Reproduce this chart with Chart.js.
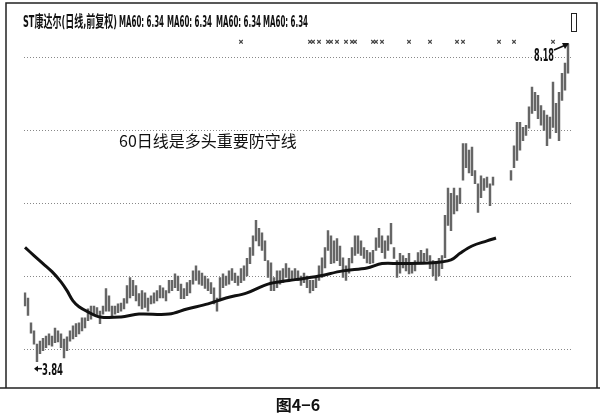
<!DOCTYPE html>
<html>
<head>
<meta charset="utf-8">
<script src="https://cdn.jsdelivr.net/npm/chart.js@4.4.1/dist/chart.umd.min.js"></script>
<style>
html,body{margin:0;padding:0;background:#fff;}
#wrap{width:600px;height:417px;}
</style>
</head>
<body>
<div id="wrap"><canvas id="kChart" width="600" height="417"></canvas></div>
<script>
// daily high / low (gap = no trading)
const highs=[4.78,4.71,4.37,4.26,4.08,4.12,4.16,4.19,4.22,4.19,
4.30,4.26,4.22,4.15,4.18,4.26,4.33,4.36,4.37,4.44,
4.44,4.56,4.60,4.60,4.58,4.53,4.60,4.84,4.74,4.60,
4.60,4.63,4.64,4.70,4.88,4.99,4.95,4.88,4.77,4.81,
4.78,4.71,4.74,4.78,4.81,4.88,4.85,4.81,4.95,4.95,
5.04,5.01,4.90,4.84,4.92,4.95,5.08,5.15,5.08,5.05,
5.01,4.97,4.92,4.85,4.71,4.99,5.04,5.01,5.08,5.11,
5.05,5.01,5.11,5.15,5.25,5.40,5.56,5.77,5.66,5.60,
5.49,5.22,5.19,4.99,5.08,5.08,5.11,5.18,5.12,5.08,
5.11,5.08,5.01,5.05,5.01,4.95,4.95,5.01,5.15,5.26,
5.40,5.63,5.56,5.49,5.52,5.42,5.26,5.15,5.25,5.40,
5.56,5.56,5.49,5.40,5.36,5.33,5.36,5.53,5.66,5.56,
5.49,5.56,5.73,5.40,5.22,5.32,5.29,5.25,5.32,5.19,
5.22,5.33,5.36,5.32,5.38,5.29,5.22,5.19,5.25,5.29,
5.84,6.21,6.14,6.21,6.11,6.21,6.82,6.82,6.73,6.77,
6.45,6.27,6.38,6.34,6.36,6.27,6.36,null,null,null,
null,null,6.45,6.79,7.11,7.11,7.04,7.07,7.32,7.59,
7.52,7.48,7.34,7.27,7.21,7.18,7.66,7.37,7.52,7.78,
7.92,8.18,null];
const lows=[4.60,4.47,4.23,4.08,3.84,3.95,3.99,4.03,4.07,4.05,
4.10,4.11,4.03,3.89,3.99,4.12,4.15,4.18,4.22,4.26,
4.30,4.40,4.42,4.49,4.47,4.36,4.49,4.53,4.53,4.44,
4.49,4.51,4.53,4.56,4.64,4.71,4.74,4.67,4.60,4.56,
4.58,4.53,4.63,4.64,4.67,4.71,4.71,4.67,4.78,4.81,
4.85,4.81,4.70,4.70,4.74,4.78,4.90,4.95,4.90,4.88,
4.84,4.81,4.77,4.63,4.53,4.67,4.85,4.88,4.90,4.95,
4.92,4.88,4.92,4.95,5.01,5.18,5.29,5.49,5.42,5.36,
5.22,4.99,4.81,4.81,4.85,4.90,4.92,4.99,4.95,4.95,
4.97,4.95,4.88,4.92,4.85,4.78,4.81,4.85,4.95,4.99,
5.12,5.36,5.18,5.19,5.22,5.15,4.99,4.95,5.05,5.19,
5.29,5.32,5.29,5.25,5.19,5.18,5.19,5.36,5.40,5.33,
5.25,5.36,5.45,5.25,4.99,5.05,5.12,5.08,5.04,5.05,
5.08,5.18,5.19,5.19,5.22,5.11,5.01,4.95,5.01,5.11,
5.26,5.70,5.63,5.86,5.90,6.00,6.32,6.49,6.42,6.38,
6.27,5.88,6.08,6.18,6.22,5.97,6.25,null,null,null,
null,null,6.32,6.49,6.59,6.73,6.86,6.93,7.03,7.23,
7.27,7.16,7.07,7.00,6.79,6.89,7.04,6.97,6.86,7.41,
7.55,7.78,null];
const days=highs.map((v,i)=>String(i+1));

// 60-day moving average, read at these days
const maDays=[1,4,7,10,13,15,17,19,22,26,33,39,49,55,62,68,75,82,89,93,99,107,115,120,126,137,143,146,150,155,158];
const maValues=[5.40,5.29,5.18,5.07,4.93,4.81,4.67,4.59,4.52,4.45,4.45,4.49,4.49,4.56,4.63,4.71,4.78,4.90,4.95,4.97,5.01,5.08,5.12,5.18,5.18,5.19,5.23,5.32,5.42,5.49,5.53];

// little info marks along the top
const markDays=[73,96,97,99,102,103,105,108,110,111,117,118,120,129,136,145,147,159,164,177];
const markLevel=8.21;

const priceTicks=[4,5,6,7,8];
const lowDay=5, highDay=182;

const bars=lows.map((l,i)=>l==null?null:[l,highs[i]]);
const maData=maDays.map((d,i)=>({x:String(d),y:maValues[i]}));
const markData=markDays.map(d=>({x:String(d),y:markLevel}));

const narrow="'Liberation Sans Narrow','DejaVu Sans Condensed','Noto Sans CJK SC',sans-serif";

const decor={
    id:"decor",
    beforeDraw(c){
        const g=c.ctx;
        g.save();
        g.fillStyle="#fff";
        g.fillRect(0,0,c.width,c.height);
        g.restore();
    },
    afterDraw(c){
        const g=c.ctx, xs=c.scales.x, ys=c.scales.y;
        g.save();
        // frame
        g.strokeStyle="#222";
        g.lineWidth=1.5;
        g.beginPath();
        g.moveTo(6,388);g.lineTo(6,3);g.lineTo(597,3);g.lineTo(597,388);
        g.moveTo(0,388);g.lineTo(600,388);
        g.stroke();
        g.lineWidth=1;
        g.strokeRect(571.5,13.5,5,18);

        // header
        g.fillStyle="#111";
        g.textBaseline="alphabetic";
        g.font="bold 16px "+narrow;
        g.fillText("ST康达尔(日线,前复权)",23,27,94);
        const ma="MA60: 6.34";
        [119,167,216,263].forEach(x=>g.fillText(ma,x,27,45));

        // note
        g.font="16px 'Noto Sans CJK SC','Noto Sans',sans-serif";
        g.fillText("60日线是多头重要防守线",119,147,182);

        // high label + arrow
        const hx=xs.getPixelForValue(highDay-1), hy=ys.getPixelForValue(highs[highDay-1]);
        g.font="bold 18px "+narrow;
        g.fillText("8.18",534,61,20);
        g.strokeStyle="#111";
        g.lineWidth=1.6;
        g.beginPath();
        g.moveTo(554,50);g.lineTo(hx,hy);
        g.stroke();
        g.beginPath();
        g.moveTo(hx+1,hy-1);g.lineTo(hx-6,hy-1);g.lineTo(hx-3,hy+5);g.closePath();
        g.fill();

        // low label
        const lx=xs.getPixelForValue(lowDay-1), ly=ys.getPixelForValue(lows[lowDay-1]);
        g.font="bold 16px "+narrow;
        g.fillText("3.84",lx+5,ly+13,21);
        g.lineWidth=1.5;
        g.beginPath();
        g.moveTo(lx-2,ly+7);g.lineTo(lx+5,ly+7);
        g.stroke();
        g.beginPath();
        g.moveTo(lx-3,ly+7);g.lineTo(lx+1,ly+4);g.lineTo(lx+1,ly+10);g.closePath();
        g.fill();

        // caption
        g.font="bold 16px 'Noto Sans CJK SC',sans-serif";
        g.textAlign="center";
        g.fillText("图4−6",298,411);
        g.restore();
    }
};

new Chart(document.getElementById("kChart"),{
    type:"bar",
    data:{
        labels:days,
        datasets:[
            {type:"line",data:maData,borderColor:"#111",borderWidth:3,pointRadius:0,tension:0.35,spanGaps:true,order:0},
            {type:"line",data:markData,showLine:false,pointStyle:"crossRot",pointRadius:2.5,borderColor:"#444",borderWidth:1.2,order:1},
            {data:bars,backgroundColor:"#666",barThickness:1.8,order:2}
        ]
    },
    options:{
        responsive:false,
        animation:false,
        layout:{padding:{left:23.5,right:27.5,top:5,bottom:29}},
        plugins:{legend:{display:false},tooltip:{enabled:false}},
        scales:{
            x:{display:false,grid:{display:false}},
            y:{
                min:3.48,max:8.71,
                afterBuildTicks:s=>{s.ticks=priceTicks.map(v=>({value:v}))},
                ticks:{display:false},
                border:{display:false,dash:[1,2]},
                grid:{color:"#888",lineWidth:1,drawTicks:false}
            }
        }
    },
    plugins:[decor]
});
</script>
</body>
</html>
